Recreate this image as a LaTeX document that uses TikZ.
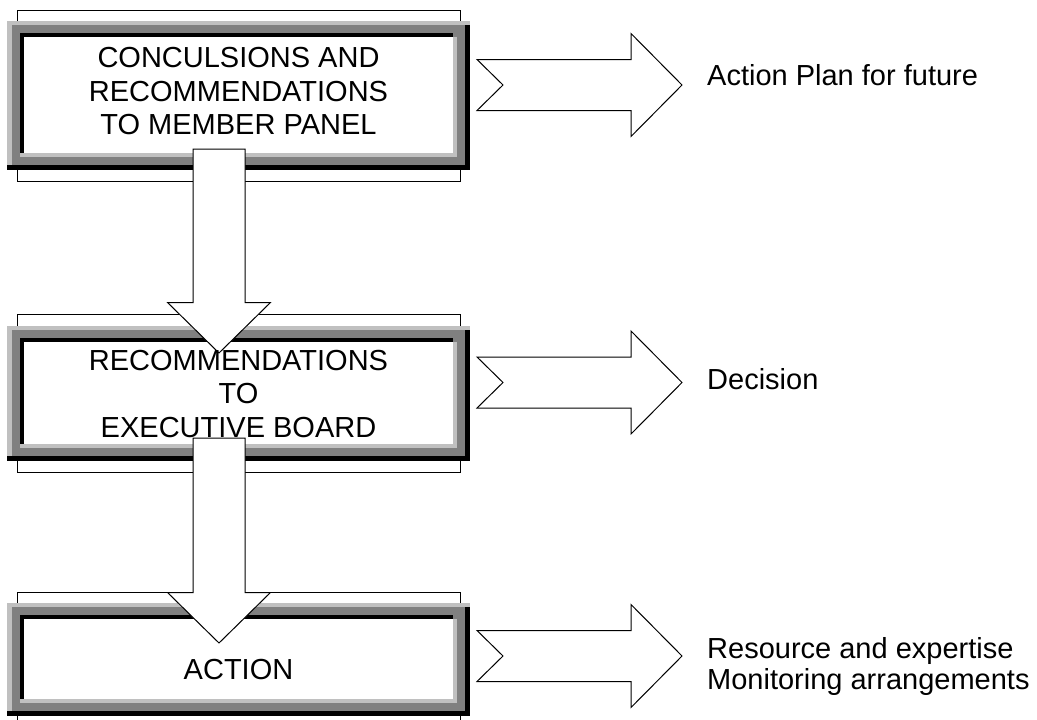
\documentclass[tikz,border=0pt]{standalone}
\usepackage{fontspec}
\setmainfont{Liberation Sans}
\usetikzlibrary{calc}
\definecolor{frgray}{RGB}{128,128,128}
\definecolor{frlight}{RGB}{192,192,192}
% bevelled frame: #1 x0, #2 y0, #3 x1, #4 y1, #5/#6 thin outer rectangle top/bottom
\newcommand\bevelframe[6]{%
  \draw[thinbox] (17,#5) rectangle (460,#6);
  \fill[frgray] (#1,#2) rectangle (#3,#4);
  \fill[frlight] (#1,#2) rectangle (#3,#2+4);
  \fill[frlight] (#1,#2) rectangle (#1+5,#4-5);
  \fill[black] (#1,#4-5) rectangle (#3,#4);
  \fill[black] (#3-5,#2+4) rectangle (#3,#4);
  \fill[black] (#1+13,#2+12) rectangle (#3-17,#2+16);
  \fill[black] (#1+13,#2+12) rectangle (#1+17,#4-17);
  \fill[frlight] (#3-17,#2+16) rectangle (#3-13,#4-13);
  \fill[frlight] (#1+13,#4-17) rectangle (#3-13,#4-13);
  \fill[white] (#1+17,#2+16) rectangle (#3-17,#4-17);
}
% block arrow pointing down from coordinate #1 (top centre) to #2 (tip)
\newcommand\blockdownarrow[2]{%
  \draw[blockarrow] ($(#1)+(-26,0)$) -- ($(#2)+(-26,-50.5)$) -- ($(#2)+(-51.5,-50.5)$)
    -- (#2) -- ($(#2)+(51.5,-50.5)$) -- ($(#2)+(26,-50.5)$) -- ($(#1)+(26,0)$) -- cycle;
}
% notched block arrow pointing right from #1 (tail centre) to #2 (tip)
\newcommand\blockrightarrow[2]{%
  \draw[blockarrow] ($(#1)+(0,-25.5)$) -- ($(#2)+(-51,-25.5)$) -- ($(#2)+(-51,-51.5)$)
    -- (#2) -- ($(#2)+(-51,51.5)$) -- ($(#2)+(-51,25.5)$) -- ($(#1)+(0,25.5)$)
    -- ($(#1)+(26,0)$) -- cycle;
}
\begin{document}
\begin{tikzpicture}[x=1pt,y=-1pt,
  thinbox/.style={draw=black,line width=1pt,fill=white},
  blockarrow/.style={draw=black,line width=1pt,fill=white,line join=miter},
  boxtext/.style={inner sep=0pt,align=center,font=\fontsize{29pt}{33.5pt}\selectfont},
  sidetext/.style={inner sep=0pt,anchor=base west,font=\fontsize{29pt}{33.5pt}\selectfont}]
\useasboundingbox (0,0) rectangle (1037,720);
\clip (0,0) rectangle (1037,720);
\fill[white] (0,0) rectangle (1037,720);
% frames
\bevelframe{7}{21}{470}{170}{10}{181}
\bevelframe{7}{326}{470}{461}{314}{472}
\bevelframe{7}{603}{470}{716}{592}{740}
% arrow coordinates
\coordinate (d1s) at (219,149);
\coordinate (d1t) at (219,353);
\coordinate (d2s) at (219,438);
\coordinate (d2t) at (219,643);
\coordinate (r1s) at (477,85);
\coordinate (r1t) at (682,85);
\coordinate (r2s) at (477,382.5);
\coordinate (r2t) at (682,382.5);
\coordinate (r3s) at (477,656);
\coordinate (r3t) at (682,656);
\blockdownarrow{d1s}{d1t}
\blockdownarrow{d2s}{d2t}
\blockrightarrow{r1s}{r1t}
\blockrightarrow{r2s}{r2t}
\blockrightarrow{r3s}{r3t}
% texts
\node[boxtext] (b1) at (238.5,91.5) {CONCULSIONS AND\\RECOMMENDATIONS\\TO MEMBER PANEL};
\node[boxtext] (b2) at (238.5,394) {RECOMMENDATIONS\\TO\\EXECUTIVE BOARD};
\node[boxtext] (b3) at (238.5,669.6) {ACTION};
\node[sidetext] (t1) at (707,85) {Action Plan for future};
\node[sidetext] (t2) at (707,389) {Decision};
\node[sidetext] (t3a) at (707,658) {Resource and expertise};
\node[sidetext] (t3b) at (707,689) {Monitoring arrangements};
\end{tikzpicture}
\end{document}
